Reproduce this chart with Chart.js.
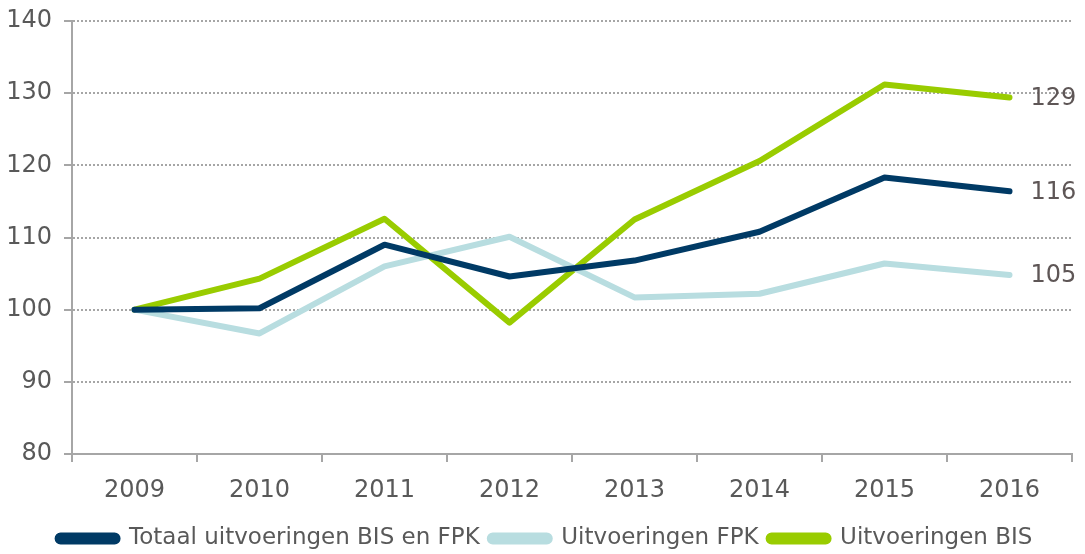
<!DOCTYPE html>
<html>
<head>
<meta charset="utf-8">
<script src="https://cdn.jsdelivr.net/npm/chart.js@4"></script>
<style>
    html, body { margin: 0; padding: 0; background: #fff; }
    #wrap { width: 1085px; height: 554px; }
</style>
</head>
<body>
<div id="wrap"><canvas id="chart1"></canvas></div>
<script>
// data
var years = ['2009', '2010', '2011', '2012', '2013', '2014', '2015', '2016'];
var totaal = [100, 100.2, 109.0, 104.6, 106.8, 110.8, 118.3, 116.4];
var fpk = [100, 96.7, 106.0, 110.1, 101.7, 102.2, 106.4, 104.8];
var bis = [100, 104.3, 112.6, 98.2, 112.5, 120.6, 131.2, 129.4];
var yTicks = [80, 90, 100, 110, 120, 130, 140];

var textColor = '#595959';
var axisColor = '#a6a6a6';

// value label to the right of the last point
var endLabels = {
    id: 'endLabels',
    afterLayout: function(chart) {
        // legend sits a bit right of centre in the original
        chart.legend.left += 9;
        chart.legend.right += 9;
    },
    afterDatasetsDraw: function(chart) {
        var ctx = chart.ctx;
        ctx.save();
        ctx.font = '24px "DejaVu Sans"';
        ctx.fillStyle = '#5e5656';
        ctx.textAlign = 'left';
        ctx.textBaseline = 'middle';
        chart.data.datasets.forEach(function(ds, i) {
            var meta = chart.getDatasetMeta(i);
            var pt = meta.data[meta.data.length - 1];
            ctx.fillText(Math.round(ds.data[ds.data.length - 1]), pt.x + 21, pt.y + 1);
        });
        ctx.restore();
    }
};

function lineSet(label, data, color) {
    return {
        label: label,
        data: data,
        borderColor: color,
        backgroundColor: color,
        borderWidth: 6,
        borderJoinStyle: 'round',
        borderCapStyle: 'round',
        tension: 0,
        pointRadius: 0
    };
}

var ctx = document.getElementById('chart1').getContext('2d');
var myChart = new Chart(ctx, {
    type: 'line',
    data: {
        labels: years,
        datasets: [
            lineSet('Totaal uitvoeringen BIS en FPK', totaal, '#003a65'),
            lineSet('Uitvoeringen FPK', fpk, '#b8dde0'),
            lineSet('Uitvoeringen BIS', bis, '#99cc00')
        ]
    },
    options: {
        responsive: true,
        maintainAspectRatio: false,
        animation: false,
        layout: {
            padding: { top: 21, right: 13, left: 0, bottom: -6 }
        },
        plugins: {
            tooltip: { enabled: false },
            legend: {
                position: 'bottom',
                display: true,
                labels: {
                    color: textColor,
                    font: { family: 'DejaVu Sans', size: 23 },
                    boxWidth: 60,
                    boxHeight: 6,
                    useBorderRadius: true,
                    borderRadius: 3,
                    padding: 10
                }
            }
        },
        scales: {
            x: {
                offset: true,
                ticks: {
                    color: textColor,
                    font: { family: 'DejaVu Sans', size: 24 },
                    padding: 14,
                    maxRotation: 0
                },
                grid: {
                    offset: true,
                    drawOnChartArea: false,
                    tickLength: 8,
                    color: axisColor,
                    lineWidth: 2
                },
                border: { color: axisColor, width: 2 },
                afterFit: function(scale) { scale.height = 63; }
            },
            y: {
                min: 80,
                max: 140,
                afterBuildTicks: function(scale) {
                    scale.ticks = yTicks.map(function(v) { return { value: v }; });
                },
                ticks: {
                    color: textColor,
                    font: { family: 'DejaVu Sans', size: 24 },
                    padding: 12
                },
                grid: {
                    color: axisColor,
                    lineWidth: 2,
                    tickBorderDash: [],
                    tickLength: 8,
                    tickColor: axisColor
                },
                border: { color: axisColor, width: 2, dash: [2, 2] },
                afterFit: function(scale) {
                    scale.width = 72;
                    scale.paddingTop = 0;
                    scale.paddingBottom = 0;
                }
            }
        }
    },
    plugins: [endLabels]
});
</script>
</body>
</html>
